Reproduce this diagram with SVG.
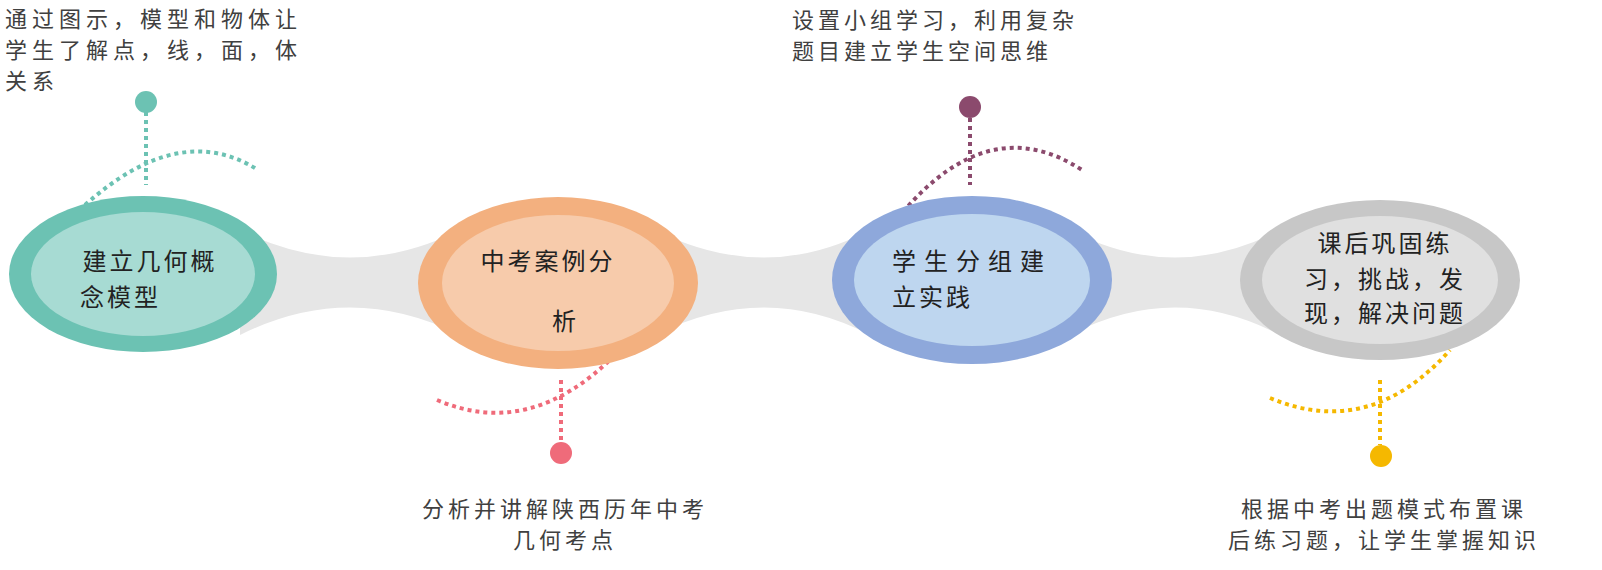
<svg xmlns="http://www.w3.org/2000/svg" width="1602" height="570" viewBox="0 0 1602 570">
<style>
.t{font-family:"Noto Sans CJK SC","Noto Sans",sans-serif;font-size:22px;fill:#404040}
.n{font-family:"Noto Sans CJK SC","Noto Sans",sans-serif;font-size:24px;fill:#222}
.d{fill:none;stroke-width:4;stroke-dasharray:4 4}
</style>
<rect width="1602" height="570" fill="#fff"/>
<g id="connectors">
<path d="M240,230 Q350,285 460,230 L460,335 Q350,280 240,335Z" fill="#e6e6e6"/>
<path d="M655,230 Q765,285 870,230 L870,335 Q765,280 655,335Z" fill="#e6e6e6"/>
<path d="M1070,230 Q1175,285 1280,230 L1280,335 Q1175,280 1070,335Z" fill="#e6e6e6"/>
<path class="d" stroke="#6cc2b3" d="M85,205 Q180,120 258,170"/>
<path class="d" stroke="#6cc2b3" d="M146,112 V185"/>
<path class="d" stroke="#ef6b7a" d="M437,400 Q530,440 615,355"/>
<path class="d" stroke="#ef6b7a" d="M561,380 V442"/>
<path class="d" stroke="#8b4a6d" d="M903,212 Q990,110 1082,170"/>
<path class="d" stroke="#8b4a6d" d="M970,118 V185"/>
<path class="d" stroke="#f5b800" d="M1270,398 Q1370,440 1450,350"/>
<path class="d" stroke="#f5b800" d="M1380,380 V445"/>
</g>
<g id="n1"><ellipse cx="143" cy="274" rx="134" ry="78" fill="#6cc2b3"/><ellipse cx="143" cy="274" rx="112" ry="62" fill="#a7dbd3"/>
<text class="n" x="150" y="270" text-anchor="middle" letter-spacing="3">建立几何概</text><text class="n" x="80" y="306" letter-spacing="3">念模型</text></g>
<g id="n2"><ellipse cx="558" cy="283" rx="140" ry="86" fill="#f3b07f"/><ellipse cx="558" cy="283" rx="116" ry="68" fill="#f7cbab"/>
<text class="n" x="548" y="270" text-anchor="middle" letter-spacing="3">中考案例分</text><text class="n" x="552" y="330" font-size="22">析</text></g>
<g id="n3"><ellipse cx="972" cy="280" rx="140" ry="84" fill="#8ea8db"/><ellipse cx="972" cy="280" rx="118" ry="66" fill="#bed6ef"/>
<text class="n" x="892" y="270" letter-spacing="8">学生分组建</text><text class="n" x="892" y="306" letter-spacing="3">立实践</text></g>
<g id="n4"><ellipse cx="1380" cy="280" rx="140" ry="80" fill="#c7c7c7"/><ellipse cx="1380" cy="280" rx="118" ry="64" fill="#e0e0e0"/>
<text class="n" x="1385" y="252" text-anchor="middle" letter-spacing="3">课后巩固练</text><text class="n" x="1385" y="288" text-anchor="middle" letter-spacing="3">习，挑战，发</text><text class="n" x="1385" y="322" text-anchor="middle" letter-spacing="3">现，解决问题</text></g>
<g id="p1"><circle cx="146" cy="102" r="11" fill="#6cc2b3"/><text class="t" x="5" y="27" letter-spacing="5">通过图示，模型和物体让</text><text class="t" x="5" y="58" letter-spacing="5">学生了解点，线，面，体</text><text class="t" x="5" y="89" letter-spacing="5">关系</text></g>
<g id="p2"><circle cx="561" cy="453" r="11" fill="#ef6b7a"/><text class="t" x="565" y="517" text-anchor="middle" letter-spacing="4">分析并讲解陕西历年中考</text><text class="t" x="565" y="548" text-anchor="middle" letter-spacing="4">几何考点</text></g>
<g id="p3"><circle cx="970" cy="107" r="11" fill="#8b4a6d"/><text class="t" x="792" y="28" letter-spacing="4">设置小组学习，利用复杂</text><text class="t" x="792" y="59" letter-spacing="4">题目建立学生空间思维</text></g>
<g id="p4"><circle cx="1381" cy="456" r="11" fill="#f5b800"/><text class="t" x="1384" y="517" text-anchor="middle" letter-spacing="4">根据中考出题模式布置课</text><text class="t" x="1384" y="548" text-anchor="middle" letter-spacing="4">后练习题，让学生掌握知识</text></g>
</svg>
